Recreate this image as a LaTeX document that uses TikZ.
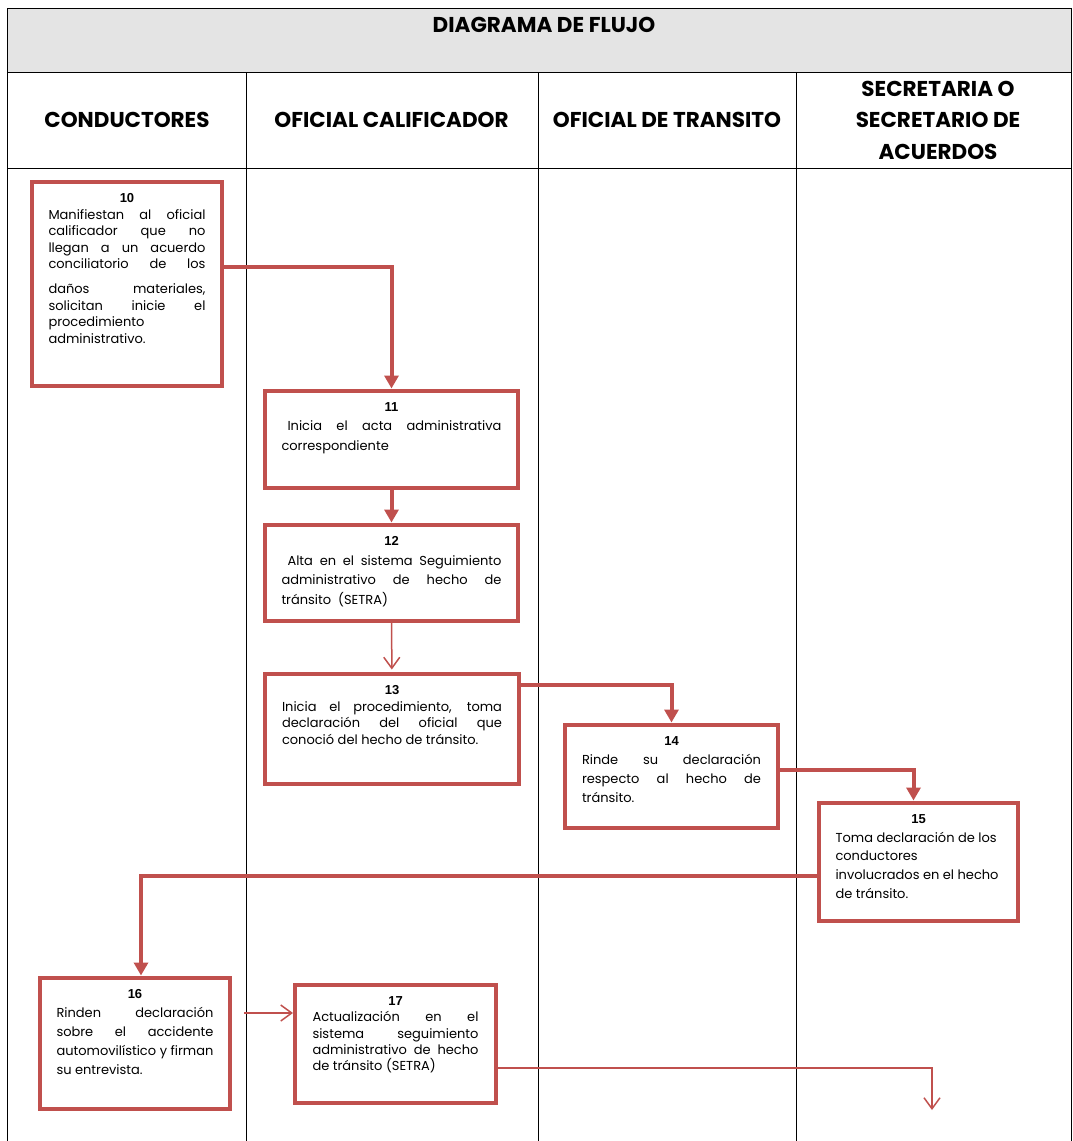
\documentclass[tikz,border=0pt]{standalone}
\usepackage{fontspec}
\setmainfont{Poppins}
\newfontfamily\numfont{Liberation Sans}
\usetikzlibrary{arrows.meta}
\definecolor{boxred}{RGB}{192,80,77}
\definecolor{headgray}{RGB}{228,228,228}
\newcommand{\jline}[1]{\makebox[\linewidth][s]{#1}\par}
\newcommand{\steptext}[5]{\parbox[c][\dimexpr#2pt-25pt\relax][t]{#1pt}{%
    {\centering\numfont\bfseries\fontsize{13}{14}\selectfont #4\par}%
    \raggedright\fontsize{13}{#3}\selectfont #5}}
\begin{document}
\begin{tikzpicture}[x=1pt,y=-1pt,
    headtext/.style={font=\bfseries\fontsize{21.5}{31.5}\selectfont, align=center, inner sep=0pt},
    stepbox/.style={draw=boxred, line width=4pt, fill=white, inner xsep=0pt, inner ysep=12pt},
    flow/.style={boxred, line width=4pt, -{Triangle[length=13pt,width=14pt]}},
    thinflow/.style={boxred, line width=1.5pt, -{Straight Barb[length=11pt,width=16pt]}}]
    \useasboundingbox (0,0) rectangle (1072,1141);
    \fill[headgray] (7,8) rectangle (1071,72);
    \draw[line width=0.8pt] (7,8) -- (1071,8);
    \draw[line width=0.8pt] (7,72) -- (1071,72);
    \draw[line width=0.8pt] (7,168) -- (1071,168);
    \draw[line width=0.8pt] (7,8) -- (7,1141);
    \draw[line width=0.8pt] (1071,8) -- (1071,1141);
    \foreach \x in {246,538,796}
        \draw[line width=0.8pt] (\x,72) -- (\x,1141);

    \node[headtext] (title) at (544,25) {DIAGRAMA DE FLUJO};
    \node[headtext] (conductores) at (127,120) {CONDUCTORES};
    \node[headtext] (calificador) at (391.5,120) {OFICIAL CALIFICADOR};
    \node[headtext] (transito) at (667,120) {OFICIAL DE TRANSITO};
    \node[headtext] (secretaria) at (938,120) {SECRETARIA O\\SECRETARIO DE\\ACUERDOS};

    \node[stepbox, minimum width=190] (s10) at (127,283.5) {\steptext{157}{205}{16.6}{10}{%
        \jline{Manifiestan al oficial}\jline{calificador que no}%
        \jline{llegan a un acuerdo}\jline{conciliatorio de los}\vspace{8pt}%
        \jline{daños materiales,}\jline{solicitan inicie el}%
        procedimiento\\administrativo.}};
    \node[stepbox, minimum width=253] (s11) at (391.5,439) {\steptext{220}{98}{19.5}{11}{%
        \jline{\hspace{6pt}Inicia el acta administrativa}correspondiente}};
    \node[stepbox, minimum width=253] (s12) at (391.5,572.5) {\steptext{220}{97}{19.5}{12}{%
        \jline{\hspace{6pt}Alta en el sistema Seguimiento}%
        \jline{administrativo de hecho de}tránsito\ \ (SETRA)}};
    \node[stepbox, minimum width=254] (s13) at (392,728.5) {\steptext{220}{111}{16.5}{13}{%
        \jline{Inicia el procedimiento, toma}%
        \jline{declaración del oficial que}conoció del hecho de tránsito.}};
    \node[stepbox, minimum width=213] (s14) at (671.5,776) {\steptext{179}{104}{19}{14}{%
        \jline{Rinde su declaración}\jline{respecto al hecho de}tránsito.}};
    \node[stepbox, minimum width=199] (s15) at (918.5,861.5) {\steptext{166}{119}{18.7}{15}{%
        Toma declaración de los\\conductores\\involucrados en el hecho\\de tránsito.}};
    \node[stepbox, minimum width=190] (s16) at (135,1043) {\steptext{157}{132}{19}{16}{%
        \jline{Rinden declaración}\jline{sobre el accidente}%
        \jline{automovilístico y firman}su entrevista.}};
    \node[stepbox, minimum width=201] (s17) at (395.5,1043.5) {\steptext{166}{119}{16.3}{17}{%
        \jline{Actualización en el}\jline{sistema seguimiento}%
        \jline{administrativo de hecho}de tránsito (SETRA)}};
    \coordinate (fin) at (932,1110);

    \draw[flow] ([yshift=16.5pt]s10.east) -| (s11.north);
    \draw[flow] (s11) -- (s12);
    \draw[thinflow, shorten >=2pt] (s12) -- (s13);
    \draw[flow] ([yshift=43.5pt]s13.east) -| (s14.north);
    \draw[flow] ([yshift=6pt]s14.east) -| ([xshift=-5pt]s15.north);
    \draw[flow] ([yshift=-14.5pt]s15.west) -| ([xshift=6pt]s16.north);
    \draw[thinflow] ([xshift=12pt,yshift=30pt]s16.east) coordinate (a) -- (a -| s17.west);
    \draw[thinflow] ([yshift=-24.5pt]s17.east) -| (fin);
\end{tikzpicture}
\end{document}
